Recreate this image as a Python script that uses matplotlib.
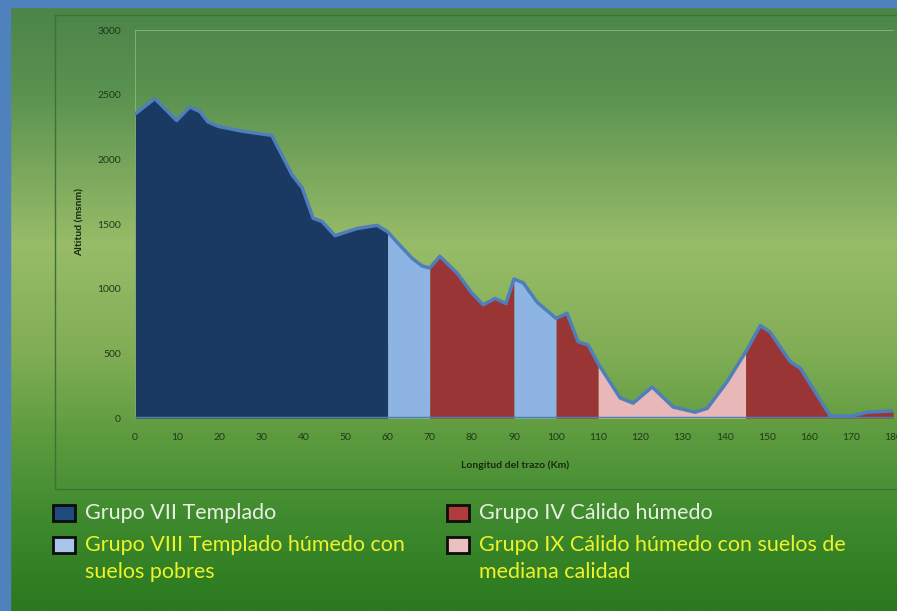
import numpy as np
import matplotlib
matplotlib.use("Agg")
import matplotlib.pyplot as plt
from matplotlib.colors import LinearSegmentedColormap
from matplotlib.patches import Rectangle

plt.rcParams['font.family'] = ['Lato', 'DejaVu Sans']

# elevation profile
km = [0, 4.7, 9.9, 13, 15.4, 17.3, 19.8, 25, 32.5, 37.3, 39.7, 42.3, 44.4, 47.5,
      52.7, 57.5, 60, 62.2, 65.8, 68.2, 70, 72.4, 76.5, 80, 82.7, 85.5, 88.1,
      90, 92.2, 95.5, 100, 102.6, 105.2, 107.6, 110, 115.2, 118.3, 122.8,
      127.8, 133, 135.9, 140.6, 145, 148.5, 150.8, 155.6, 158, 165, 167, 170,
      172, 174, 177, 180]
altitude = [2350, 2470, 2300, 2405, 2370, 2290, 2255, 2220, 2185, 1880, 1780,
            1545, 1520, 1410, 1465, 1490, 1440, 1360, 1235, 1175, 1160, 1250,
            1120, 965, 875, 925, 885, 1075, 1045, 895, 770, 810, 590, 565, 420,
            155, 115, 240, 85, 45, 75, 280, 510, 715, 665, 435, 385, 20, 15,
            15, 30, 45, 50, 55]

seg_start = [0, 60, 70, 90, 100, 110, 145, 165]
seg_end = [60, 70, 90, 100, 110, 145, 165, 180]
seg_group = ['VII', 'VIII', 'IV', 'VIII', 'IV', 'IX', 'IV', 'IV']

group_colors = {'VII': '#1b3a63', 'VIII': '#8db4e2', 'IV': '#993535', 'IX': '#e8b8b8'}
legend_colors = {'VII': '#1f4a7c', 'VIII': '#a9c4eb', 'IV': '#b03c3c', 'IX': '#ecc0c0'}
legend_labels = {
    'VII': 'Grupo VII Templado',
    'VIII': 'Grupo VIII Templado húmedo con\nsuelos pobres',
    'IV': 'Grupo IV Cálido húmedo',
    'IX': 'Grupo IX Cálido húmedo con suelos de\nmediana calidad',
}

y_ticks = [0, 500, 1000, 1500, 2000, 2500, 3000]
x_ticks = list(range(0, 190, 10))

W, H = 897, 611
fig = plt.figure(figsize=(W / 100, H / 100), dpi=100)

# background gradient
bg = fig.add_axes([0, 0, 1, 1])
bg.set_axis_off()
cmap = LinearSegmentedColormap.from_list('bg', [
    (0.0, '#4a8448'), (0.15, '#5a9250'), (0.40, '#98bc68'), (0.58, '#80ad55'),
    (0.72, '#5c9a3e'), (0.85, '#3f8a2e'), (1.0, '#2a791e')])
grad = np.linspace(0, 1, 300).reshape(-1, 1)
bg.imshow(grad, cmap=cmap, aspect='auto', extent=[0, 1, 0, 1], origin='upper')
bg.set_xlim(0, 1)
bg.set_ylim(0, 1)

# blue slide border
fig.patches.append(Rectangle((0, 0), 10 / W, 1, transform=fig.transFigure,
                             color='#4f81bd', zorder=5))
fig.patches.append(Rectangle((0, 1 - 7 / H), 1, 7 / H, transform=fig.transFigure,
                             color='#4f81bd', zorder=5))
# chart frame
fig.patches.append(Rectangle((55 / W, 1 - 489 / H), 1, (489 - 15) / H,
                             transform=fig.transFigure, fill=False,
                             edgecolor='#3d7235', lw=1, zorder=2))

ax = fig.add_axes([135 / W, 1 - 418 / H, 758 / W, 388 / H])
ax.set_facecolor('none')

x = np.array(km)
y = np.array(altitude)
for a, b, g in zip(seg_start, seg_end, seg_group):
    m = (x >= a) & (x <= b)
    ax.fill_between(x[m], 0, y[m], color=group_colors[g], lw=0, zorder=2)
ax.plot(x, y, color='#4f7fba', lw=2.5, zorder=3, solid_joinstyle='round')
ax.plot([0, 180], [0, 0], color='#4f7fba', lw=2.5, zorder=3)

ax.set_xlim(0, 180)
ax.set_ylim(0, 3000)
ax.set_xticks(x_ticks)
ax.set_yticks(y_ticks)
ax.tick_params(length=0, labelsize=7.5, labelcolor='#1e3a18')
ax.tick_params(axis='y', pad=10)
ax.tick_params(axis='x', pad=11)
for s in ['right', 'bottom']:
    ax.spines[s].set_visible(False)
for s in ['left', 'top']:
    ax.spines[s].set_color('#9fbd85')
    ax.spines[s].set_linewidth(0.7)
    ax.spines[s].set_alpha(0.7)

fig.text(515 / W, 1 - 465 / H, 'Longitud del trazo (Km)', ha='center', va='center',
         fontsize=7.5, fontweight='bold', color='#152b12')
fig.text(80 / W, 1 - 222 / H, 'Altitud (msnm)', ha='center', va='center',
         rotation=90, fontsize=7.5, fontweight='bold', color='#152b12')

# legend drawn by hand
legend_pos = {'VII': (53, 513), 'VIII': (53, 545), 'IV': (447, 513), 'IX': (447, 545)}
for g, (px, py) in legend_pos.items():
    fig.patches.append(Rectangle((px / W, 1 - (py + 8) / H), 22 / W, 16 / H,
                                 transform=fig.transFigure, facecolor=legend_colors[g],
                                 edgecolor='#0d0d0d', lw=2, zorder=5))
    col = '#e6efe0' if g in ('VII', 'IV') else '#eef22a'
    fig.text((px + 32) / W, 1 - (py - 10) / H, legend_labels[g], ha='left', va='top',
             fontsize=15.5, color=col, linespacing=1.45)

fig.savefig('out.png', dpi=100)
